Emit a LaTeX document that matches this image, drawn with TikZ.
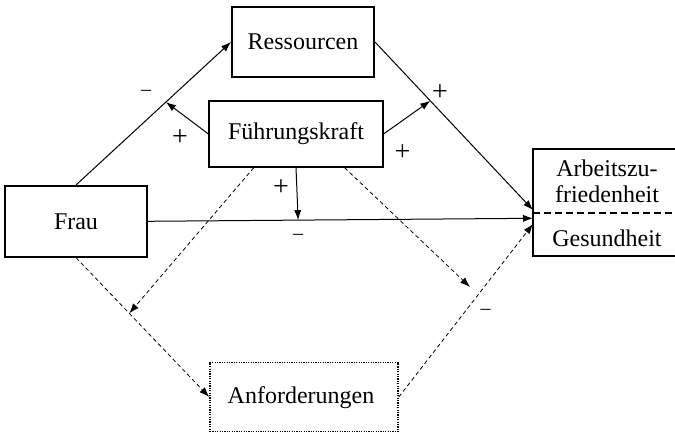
\documentclass[tikz,border=0pt]{standalone}
\usepackage{fontspec}
\setmainfont{Liberation Serif}
\usetikzlibrary{arrows.meta,calc}
\begin{document}
\begin{tikzpicture}[x=0.5pt,y=-0.5pt]
		\tikzstyle{boite}=[draw,line width=1pt,inner sep=0pt,font=\fontsize{12}{13}\selectfont]
		\tikzstyle{texte}=[inner sep=0pt,align=center,font=\fontsize{12}{13}\selectfont]
		\tikzstyle{fleche}=[line width=0.5pt,-{Latex[length=5pt,width=3.6pt]}]
		\tikzstyle{pointille}=[line width=0.4pt,dash pattern=on 2pt off 1.5pt,-{Latex[length=5pt,width=3.6pt]}]
		\tikzstyle{signe}=[inner sep=0pt,font=\fontsize{14}{15}\selectfont]
		\tikzstyle{moins}=[inner sep=0pt,font=\fontsize{10}{11}\selectfont]
		\useasboundingbox (0,0) rectangle (675,433);
		% Kaesten
		\node[boite,minimum width=71pt,minimum height=35pt] (Res) at (303,42) {Ressourcen};
		\node[boite,minimum width=87pt,minimum height=33pt] (Fk) at (296,133.7) {Führungskraft};
		\node[boite,minimum width=71pt,minimum height=35.3pt] (Frau) at (76,221.3) {Frau};
		\node[boite,minimum width=72pt,minimum height=53.5pt] (Ziel) at (605,202.5) {};
		\node[texte] (ZielA) at (607,181) {Arbeitszu-\\friedenheit};
		\node[texte] (ZielB) at (607,238) {Gesundheit};
		\node[boite,line width=0.8pt,dash pattern=on 0.6pt off 0.6pt,minimum width=94pt,minimum height=34.5pt] (Anf) at (304,397) {};
		\node[texte] (AnfT) at (301,398) {Anforderungen};
		\coordinate (ZielTrenn) at (533,213.3);
		\draw[line width=0.9pt,dash pattern=on 3.5pt off 2pt] (ZielTrenn) -- (ZielTrenn -| Ziel.east);
		% Eingaenge
		\coordinate (EinRes) at (533,210);
		\coordinate (EinFrau) at (533,218.3);
		\coordinate (EinAnf) at (533,224);
		\coordinate (FkG) at ($(Fk.south west)!0.26!(Fk.south east)$);
		\coordinate (FkD) at ($(Fk.south west)!0.776!(Fk.south east)$);
		\coordinate (PointE) at (470,287);
		% Pfeile
		\draw[fleche] (Frau.north) -- (Res.west) coordinate[pos=0.58] (MilieuA);
		\draw[fleche] (Fk.west) -- (MilieuA);
		\draw[fleche] (Res.east) -- (EinRes) coordinate[pos=0.35] (MilieuB);
		\draw[fleche] (Fk.east) -- (MilieuB);
		\draw[fleche] (Frau.east) -- (EinFrau) coordinate[pos=0.39] (MilieuC);
		\draw[fleche] (Fk.south) -- (MilieuC);
		\draw[pointille] (Frau.south) -- (Anf.west) coordinate[pos=0.4] (MilieuD);
		\draw[pointille] (FkG) -- (MilieuD);
		\draw[pointille] (Anf.east) -- (EinAnf);
		\draw[pointille] (FkD) -- (PointE);
		% Vorzeichen
		\node[moins] (SigneA) at (146,93) {--};
		\node[signe] (SigneB) at (180,138) {+};
		\node[signe] (SigneC) at (440,93) {+};
		\node[signe] (SigneD) at (402.5,152.7) {+};
		\node[signe] (SigneE) at (281,188) {+};
		\node[moins] (SigneF) at (298,237) {--};
		\node[moins] (SigneG) at (485.6,311.7) {--};
	\end{tikzpicture}
\end{document}
